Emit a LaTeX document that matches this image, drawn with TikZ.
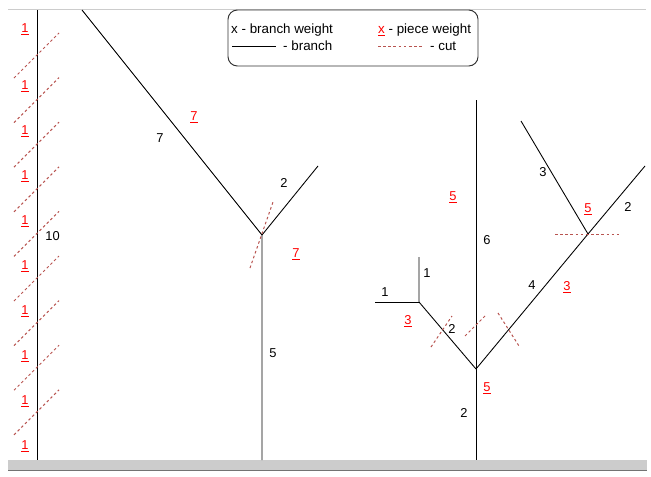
\documentclass[tikz,border=0pt]{standalone}
\usepackage{fontspec}
\setmainfont{Liberation Sans}
\usetikzlibrary{positioning}
\definecolor{cutred}{HTML}{B85450}
\definecolor{piecered}{HTML}{FF0000}
\definecolor{framegray}{HTML}{CCCCCC}
\newcommand{\pwnum}[1]{\underline{#1}}

\begin{document}
\begin{tikzpicture}[x=0.03cm, y=-0.03cm,
    font=\fontsize{11}{13}\selectfont,
    branch/.style={line width=0.75pt, black},
    cutline/.style={cutred, line width=0.85pt, dash pattern=on 2.2pt off 2.2pt},
    bw/.style={inner sep=1pt, text=black},
    pw/.style={inner sep=1pt, text=piecered},
    legendtext/.style={anchor=west, inner sep=0pt, font=\fontsize{11.4}{13}\selectfont},
    legendbox/.style={draw=black!80, line width=0.8pt, rounded corners=8pt,
                      minimum width=7.5cm, minimum height=1.68cm}]
  \useasboundingbox (0,0) rectangle (651,476);
  % frame
  \draw[framegray, line width=0.8pt] (8,9) -- (646,9);
  \fill[framegray] (8,460) rectangle (647,470);
  \draw[black!55, line width=0.8pt] (8,470) -- (647,470);

  % legend
  \node[legendbox, fill=white] (legend) at (353,38) {};
  \node[legendtext] (lbw) at (231,30) {x - branch weight};
  \node[legendtext] (lpw) at (378,30) {\textcolor{piecered}{\pwnum{x}} - piece weight};
  \coordinate (lb1) at (232,46);
  \coordinate (lb2) at (276,46);
  \draw[branch] (lb1) -- (lb2);
  \node[legendtext] (lbr) at (283,46) {- branch};
  \coordinate (lc1) at (378,46);
  \coordinate (lc2) at (423,46);
  \draw[cutline] (lc1) -- (lc2);
  \node[legendtext] (lcut) at (430,46) {- cut};

  % straight stick, cut into ten
  \coordinate (st) at (37,10);
  \coordinate (sb) at (37,460);
  \draw[branch] (st) -- (sb);
  \node[bw, anchor=west] (w10) at (44,236) {10};
  \foreach \i in {0,...,8} {
    \coordinate (c\i a) at (14,{78+44.6*\i});
    \coordinate (c\i b) at (59,{33+44.6*\i});
    \draw[cutline] (c\i a) -- (c\i b);
  }
  \node[pw] (p0) at (25,29) {\pwnum{1}};
  \foreach \i in {1,...,9}
    \node[pw] (p\i) at (25,{41+45*\i}) {\pwnum{1}};

  % forked tree
  \coordinate (mt) at (82,10);
  \coordinate (mf) at (262,235);
  \coordinate (mr) at (318,166);
  \coordinate (mb) at (262,460);
  \draw[branch] (mt) -- (mf) -- (mb);
  \draw[branch] (mf) -- (mr);
  \coordinate (mc1) at (250,268);
  \coordinate (mc2) at (273,202);
  \draw[cutline] (mc1) -- (mc2);
  \node[bw] (m7) at (160,138) {7};
  \node[pw] (mp7a) at (194,117) {\pwnum{7}};
  \node[bw] (m2) at (284,183) {2};
  \node[pw] (mp7b) at (296,254) {\pwnum{7}};
  \node[bw] (m5) at (273,353) {5};

  % branched tree
  \coordinate (rt) at (476,100);
  \coordinate (rr) at (476,369);
  \coordinate (rb) at (476,460);
  \coordinate (rl) at (419,302);
  \coordinate (rlu) at (419,257);
  \coordinate (rll) at (375,302);
  \coordinate (rj) at (588,234);
  \coordinate (rje) at (645,166);
  \coordinate (rju) at (521,121);
  \draw[branch] (rt) -- (rb);
  \draw[branch] (rr) -- (rl) -- (rlu);
  \draw[branch] (rl) -- (rll);
  \draw[branch] (rr) -- (rj) -- (rje);
  \draw[branch] (rj) -- (rju);
  \coordinate (rc1a) at (431,347);
  \coordinate (rc1b) at (452,316);
  \coordinate (rc2a) at (465,336);
  \coordinate (rc2b) at (486,315);
  \coordinate (rc3a) at (498,313);
  \coordinate (rc3b) at (519,346);
  \coordinate (rc4a) at (555,234);
  \coordinate (rc4b) at (619,234);
  \draw[cutline] (rc1a) -- (rc1b);
  \draw[cutline] (rc2a) -- (rc2b);
  \draw[cutline] (rc3a) -- (rc3b);
  \draw[cutline] (rc4a) -- (rc4b);
  \node[pw] (rp5a) at (453,197) {\pwnum{5}};
  \node[bw] (r6) at (487,240) {6};
  \node[bw] (r1a) at (427,273) {1};
  \node[bw] (r1b) at (385,292) {1};
  \node[pw] (rp3a) at (408,321) {\pwnum{3}};
  \node[bw] (r2a) at (452,329) {2};
  \node[bw] (r4) at (532,285) {4};
  \node[pw] (rp3b) at (567,287) {\pwnum{3}};
  \node[pw] (rp5b) at (487,388) {\pwnum{5}};
  \node[bw] (r2b) at (464,413) {2};
  \node[bw] (r3) at (543,172) {3};
  \node[pw] (rp5c) at (588,209) {\pwnum{5}};
  \node[bw] (r2c) at (628,207) {2};
\end{tikzpicture}
\end{document}
